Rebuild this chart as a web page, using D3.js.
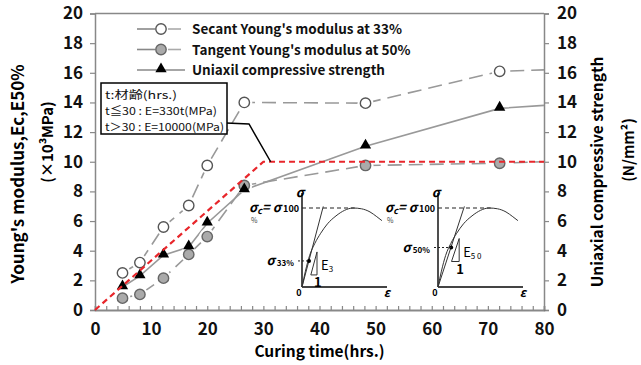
<!DOCTYPE html>
<html>
<head>
<meta charset="utf-8">
<script src="https://cdn.jsdelivr.net/npm/d3@7"></script>
<style>
  body { margin: 0; background: #fff; }
  text { font-family: "Noto Sans CJK JP", "Noto Sans", sans-serif; }
</style>
</head>
<body>
<svg id="chart" width="641" height="365"></svg>
<script>
// curing time of each test (hrs.)
const hours = [4.9, 8, 12.2, 16.7, 20, 26.6, 48.2, 72.1];
// secant Young's modulus at 33% (x10^3 MPa)
const secant = [2.5, 3.2, 5.6, 7.05, 9.75, 14.0, 13.95, 16.1];
// tangent Young's modulus at 50% (x10^3 MPa)
const tangent = [0.8, 1.05, 2.15, 3.75, 4.95, 8.4, 9.75, 9.9];
// uniaxial compressive strength (N/mm2)
const strength = [1.55, 2.3, 3.7, 4.25, 5.85, 8.1, 11.05, 13.6];
// where the series lines run out at the right edge (80 hrs)
const lineEndHour = 80;
const secantEnd = 16.2, tangentEnd = 10.0, strengthEnd = 13.8;
// design model: t<=30 E=330t, t>30 E=10000 MPa
const designHours = [0, 30, 80];
const designE = [0, 10, 10];

const xTicks = [0, 10, 20, 30, 40, 50, 60, 70, 80];
const yTicks = [0, 2, 4, 6, 8, 10, 12, 14, 16, 18, 20];

// schematic stress-strain curve for the two small insets (strain, stress ratio)
const ssStrain = [0, 0.04, 0.09, 0.15, 0.22, 0.3, 0.4, 0.5, 0.6, 0.7, 0.8, 0.88, 0.94];
const ssStress = [0, 0.2, 0.4, 0.55, 0.68, 0.8, 0.9, 0.97, 1.0, 0.99, 0.95, 0.89, 0.84];

const legendNames = ["Secant Young's modulus at 33%", "Tangent Young's modulus at 50%", "Uniaxil compressive strength"];
const noteLines = ["t:材齢(hrs.)", "t≦30 : E=330t(MPa)", "t＞30 : E=10000(MPa)"];
const noteWidths = [72, 112, 119];

var margin = { top: 13.5, right: 97, bottom: 55, left: 95 },
  width = 641 - margin.left - margin.right,
  height = 365 - margin.top - margin.bottom;

var svg = d3.select("#chart");
var g = svg.append("g").attr("transform", "translate(" + margin.left + "," + margin.top + ")");

var x = d3.scaleLinear().domain([0, 80]).range([0, width]);
var y = d3.scaleLinear().domain([0, 20]).range([height, 0]);

const axisGray = "#888";

// frame top
g.append("line").attr("x1", 0).attr("x2", width).attr("y1", 0).attr("y2", 0)
  .attr("stroke", axisGray).attr("stroke-width", 1.5);

// left axis
var yl = g.append("g").call(d3.axisLeft(y).tickValues(yTicks).tickSize(5).tickPadding(7));
// right axis
var yr = g.append("g").attr("transform", "translate(" + width + ",0)")
  .call(d3.axisRight(y).tickValues(yTicks).tickSize(5).tickPadding(8));
// bottom axis: minor ticks every 2 hrs pointing inward
var xa = g.append("g").attr("transform", "translate(0," + height + ")")
  .call(d3.axisBottom(x).tickValues(d3.range(0, 81, 2)).tickSize(-4).tickFormat(""));
var xl = g.append("g").attr("transform", "translate(0," + height + ")")
  .call(d3.axisBottom(x).tickValues(xTicks).tickSize(0).tickPadding(13));

[yl, yr, xa, xl].forEach(a => {
  a.select(".domain").attr("stroke", axisGray).attr("stroke-width", 1.5);
  a.selectAll(".tick line").attr("stroke", axisGray).attr("stroke-width", 1.2);
  a.selectAll("text").attr("fill", "#111").style("font-size", "17px").style("font-weight", 700)
    .style("font-family", '"Noto Sans CJK JP", sans-serif');
});
xa.select(".domain").attr("stroke", "#666");

// series lines
function seriesLine(vals, endVal) {
  const pts = hours.map((h, i) => [h, vals[i]]);
  pts.push([lineEndHour, endVal]);
  return d3.line().x(d => x(d[0])).y(d => y(d[1]))(pts);
}
g.append("path").attr("d", seriesLine(strength, strengthEnd))
  .attr("fill", "none").attr("stroke", "#999").attr("stroke-width", 1.6);
g.append("path").attr("d", seriesLine(secant, secantEnd))
  .attr("fill", "none").attr("stroke", "#999").attr("stroke-width", 1.6).attr("stroke-dasharray", "14,7");
g.append("path").attr("d", seriesLine(tangent, tangentEnd))
  .attr("fill", "none").attr("stroke", "#999").attr("stroke-width", 1.6).attr("stroke-dasharray", "14,7");

// white halos so the lines stop short of the markers
[secant, tangent].forEach(vals => {
  g.selectAll(null).data(hours).join("circle")
    .attr("cx", d => x(d)).attr("cy", (d, i) => y(vals[i])).attr("r", 8).attr("fill", "#fff");
});

const triangle = d3.symbol().type(d3.symbolTriangle).size(55);

function drawMarkers(sel, kind, px, py) {
  if (kind === "open") {
    sel.append("circle").attr("cx", px).attr("cy", py).attr("r", 5.2)
      .attr("fill", "#fff").attr("stroke", "#555").attr("stroke-width", 1.4);
  } else if (kind === "gray") {
    sel.append("circle").attr("cx", px).attr("cy", py).attr("r", 5.2)
      .attr("fill", "#aaa").attr("stroke", "#666").attr("stroke-width", 1.4);
  } else {
    sel.append("path").attr("d", triangle).attr("transform", "translate(" + px + "," + (py - 1) + ")")
      .attr("fill", "#000");
  }
}
hours.forEach((h, i) => drawMarkers(g, "open", x(h), y(secant[i])));
hours.forEach((h, i) => drawMarkers(g, "gray", x(h), y(tangent[i])));
hours.forEach((h, i) => drawMarkers(g, "tri", x(h), y(strength[i])));

// design line (red dashed)
g.append("path")
  .attr("d", d3.line().x(d => x(d[0])).y(d => y(d[1]))(designHours.map((h, i) => [h, designE[i]])))
  .attr("fill", "none").attr("stroke", "#e8262b").attr("stroke-width", 2.2).attr("stroke-dasharray", "6,4");

// legend
var lg = svg.append("g").attr("transform", "translate(137,29)");
legendNames.forEach((name, i) => {
  var row = lg.append("g").attr("transform", "translate(0," + i * 20.5 + ")");
  if (i < 2) {
    row.append("line").attr("x1", 0).attr("x2", 18).attr("stroke", "#888").attr("stroke-width", 1.6);
    row.append("line").attr("x1", 31).attr("x2", 44).attr("stroke", "#aaa").attr("stroke-width", 1.6);
  } else {
    row.append("line").attr("x1", 0).attr("x2", 48).attr("stroke", "#888").attr("stroke-width", 1.6);
  }
  drawMarkers(row, ["open", "gray", "tri"][i], 24, 0);
  row.append("text").attr("x", 55).attr("y", 5).text(name)
    .style("font-size", "13.5px").style("font-weight", 700).attr("fill", "#111");
});

// note box with leader line
var note = svg.append("g");
note.append("path")
  .attr("d", d3.line()([[226, 123], [249, 124], [margin.left + x(31.3), margin.top + y(10)]]))
  .attr("fill", "none").attr("stroke", "#000").attr("stroke-width", 1.5);
note.append("rect").attr("x", 101).attr("y", 83).attr("width", 126).attr("height", 51)
  .attr("fill", "#fff").attr("stroke", "#000").attr("stroke-width", 1.5);
noteLines.forEach((t, i) => {
  note.append("text").attr("x", 105).attr("y", 98.5 + i * 16).text(t)
    .attr("textLength", noteWidths[i]).attr("lengthAdjust", "spacingAndGlyphs")
    .style("font-size", "11px").attr("fill", "#111");
});

// small stress-strain insets
function inset(ox, oy, secReach, markRatio, subLabel, eLabel) {
  var ig = svg.append("g").attr("transform", "translate(" + ox + "," + oy + ")");
  var sx = d3.scaleLinear().domain([0, 1]).range([0, 85]);
  var sy = d3.scaleLinear().domain([0, 1]).range([0, -79]);
  ig.append("line").attr("x1", 0).attr("x2", 0).attr("y1", 0).attr("y2", -94).attr("stroke", "#222").attr("stroke-width", 1.6);
  ig.append("line").attr("x1", 0).attr("x2", 85).attr("y1", 0).attr("y2", 0).attr("stroke", "#444").attr("stroke-width", 1.8);
  ig.append("line").attr("x1", 0).attr("x2", sx(0.62)).attr("y1", sy(1)).attr("y2", sy(1))
    .attr("stroke", "#222").attr("stroke-dasharray", "4,3").attr("stroke-width", 1.1);
  ig.append("path")
    .attr("d", d3.line().curve(d3.curveMonotoneX).x(d => sx(d[0])).y(d => sy(d[1]))(ssStrain.map((s, i) => [s, ssStress[i]])))
    .attr("fill", "none").attr("stroke", "#333").attr("stroke-width", 1);
  ig.append("line").attr("x1", 0).attr("y1", 0).attr("x2", sx(secReach)).attr("y2", sy(1.02))
    .attr("stroke", "#333").attr("stroke-width", 1);
  ig.append("circle").attr("cx", sx(secReach * markRatio)).attr("cy", sy(markRatio)).attr("r", 2).attr("fill", "#000");
  ig.append("line").attr("x1", -4).attr("x2", sx(secReach * markRatio)).attr("y1", sy(markRatio)).attr("y2", sy(markRatio))
    .attr("stroke", "#222").attr("stroke-dasharray", "2,2");
  // slope triangle
  var tx = sx(secReach * markRatio) + 8, th = 23, tw = th * sx(secReach) / 79;
  var tb = sy(markRatio) + 14;
  ig.append("path").attr("d", d3.line()([[tx - tw, tb], [tx, tb], [tx, tb - th], [tx - tw, tb]]))
    .attr("fill", "none").attr("stroke", "#333").attr("stroke-width", 1);
  ig.append("text").attr("x", tx - 3).attr("y", tb + 12).text("1").style("font-size", "13px").style("font-weight", 700);
  var e = ig.append("text").attr("x", tx + 4).attr("y", tb - 5).style("font-size", "13px");
  e.append("tspan").text("E");
  e.append("tspan").attr("dy", 2).style("font-size", "8px").text(eLabel);
  ig.append("text").attr("x", -2).attr("y", -90).attr("text-anchor", "middle").text("σ")
    .style("font-size", "13px").style("font-weight", 700).style("font-style", "italic");
  ig.append("text").attr("x", -3).attr("y", 9).attr("text-anchor", "middle").text("0").style("font-size", "9px").style("font-weight", 700);
  ig.append("text").attr("x", 85).attr("y", 10).attr("text-anchor", "middle").text("ε")
    .style("font-size", "12px").style("font-weight", 700).style("font-style", "italic");
  var s = ig.append("text").attr("x", -8).attr("y", sy(markRatio) + 4).attr("text-anchor", "end")
    .style("font-size", "13px").style("font-weight", 700).style("font-style", "italic");
  s.append("tspan").text("σ");
  s.append("tspan").attr("dx", 2).attr("dy", 1).style("font-size", "8px").style("font-style", "normal").text(subLabel);
  return ig;
}
inset(302, 287, 0.25, 0.33, "33%", "3");
inset(438, 287, 0.31, 0.5, "50%", "5 0");

// σc = σ100% labels (wrapped "%")
[[249, 212], [385, 212]].forEach(p => {
  var t = svg.append("text").attr("x", p[0]).attr("y", p[1]).style("font-size", "13px").style("font-weight", 700).style("font-style", "italic");
  t.append("tspan").text("σ");
  t.append("tspan").attr("dy", 2).style("font-size", "9px").text("c");
  t.append("tspan").attr("dy", -2).text("= σ");
  t.append("tspan").attr("dx", 2).style("font-size", "9px").style("font-style", "normal").text("100");
  svg.append("text").attr("x", p[0] + 2).attr("y", p[1] + 11).text("%").style("font-size", "7px").attr("fill", "#444");
});

// axis titles
svg.append("text").attr("x", margin.left + width / 2).attr("y", 357).attr("text-anchor", "middle")
  .text("Curing time(hrs.)").style("font-size", "15.5px").style("font-weight", 700);
svg.append("text").attr("transform", "translate(24,174) rotate(-90)").attr("text-anchor", "middle")
  .text("Young's modulus,Ec,E50%").style("font-size", "17px").style("font-weight", 700);
svg.append("text").attr("transform", "translate(53,142) rotate(-90)").attr("text-anchor", "middle")
  .text("(×10³MPa)").style("font-size", "15px").style("font-weight", 700);
svg.append("text").attr("transform", "translate(603,172) rotate(-90)").attr("text-anchor", "middle")
  .text("Uniaxial compressive strength").style("font-size", "15.5px").style("font-weight", 700);
svg.append("text").attr("transform", "translate(634,150) rotate(-90)").attr("text-anchor", "middle")
  .text("(N/mm²)").style("font-size", "15px").style("font-weight", 700);
</script>
</body>
</html>
